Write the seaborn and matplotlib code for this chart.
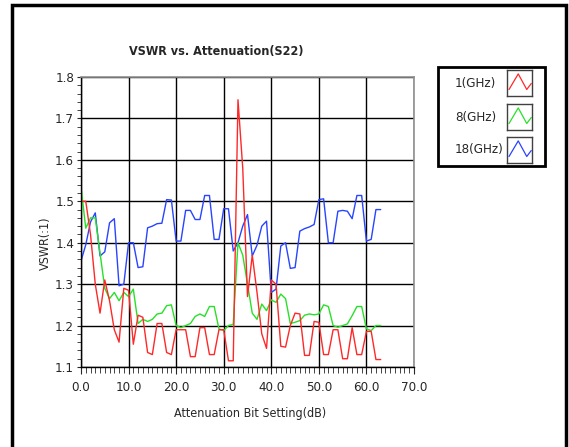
import numpy as np
import matplotlib
matplotlib.use("Agg")
import matplotlib.pyplot as plt
from matplotlib.patches import Rectangle
from matplotlib.ticker import MultipleLocator, FormatStrFormatter
import pandas as pd
import seaborn as sns

# ---- data
att_db = list(range(64))
vswr_1ghz = [1.50, 1.50, 1.42, 1.30, 1.23, 1.31, 1.26, 1.19, 1.16, 1.29,
             1.285, 1.155, 1.225, 1.22, 1.135, 1.13, 1.205, 1.205, 1.135, 1.13,
             1.19, 1.19, 1.19, 1.125, 1.125, 1.195, 1.195, 1.13, 1.13, 1.19,
             1.19, 1.115, 1.115, 1.745, 1.58, 1.27, 1.37, 1.28, 1.18, 1.145,
             1.31, 1.30, 1.15, 1.148, 1.20, 1.23, 1.228, 1.128, 1.128, 1.21,
             1.208, 1.13, 1.13, 1.19, 1.19, 1.12, 1.12, 1.195, 1.13, 1.13,
             1.186, 1.186, 1.118, 1.118]
vswr_8ghz = [1.535, 1.435, 1.46, 1.46, 1.375, 1.29, 1.265, 1.28, 1.26, 1.28,
             1.27, 1.288, 1.205, 1.215, 1.21, 1.215, 1.228, 1.23, 1.248, 1.25,
             1.20, 1.195, 1.20, 1.205, 1.222, 1.228, 1.222, 1.246, 1.246, 1.192,
             1.188, 1.20, 1.203, 1.40, 1.37, 1.30, 1.23, 1.215, 1.252, 1.236,
             1.262, 1.256, 1.276, 1.265, 1.205, 1.208, 1.212, 1.225, 1.228, 1.226,
             1.228, 1.25, 1.246, 1.20, 1.196, 1.20, 1.204, 1.224, 1.246, 1.246,
             1.192, 1.188, 1.20, 1.20]
vswr_18ghz = [1.356, 1.395, 1.45, 1.472, 1.368, 1.378, 1.448, 1.458, 1.296, 1.30,
              1.40, 1.40, 1.34, 1.342, 1.436, 1.44, 1.446, 1.447, 1.504, 1.503,
              1.404, 1.404, 1.478, 1.478, 1.456, 1.456, 1.514, 1.514, 1.408, 1.408,
              1.482, 1.482, 1.38, 1.40, 1.44, 1.468, 1.368, 1.394, 1.44, 1.452,
              1.28, 1.288, 1.392, 1.40, 1.338, 1.34, 1.428, 1.434, 1.438, 1.444,
              1.504, 1.506, 1.40, 1.40, 1.476, 1.478, 1.476, 1.458, 1.514, 1.514,
              1.404, 1.408, 1.48, 1.48]
series_names = ["1(GHz)", "8(GHz)", "18(GHz)"]
series_colors = ["#ff2828", "#28e028", "#2844ff"]

df = pd.DataFrame({
    "att": att_db * 3,
    "vswr": vswr_1ghz + vswr_8ghz + vswr_18ghz,
    "freq": [series_names[0]] * 64 + [series_names[1]] * 64 + [series_names[2]] * 64,
})

sns.set_style("white")
# narrow text like the instrument screenshot
plt.rcParams["font.family"] = ["DejaVu Sans"]
plt.rcParams["font.stretch"] = "condensed"

fig = plt.figure(figsize=(5.69, 4.47), dpi=100)
ax = fig.add_axes([81 / 569, 1 - 367 / 447, 333 / 569, 290 / 447])

# draw 18 GHz first so red ends up on top
for name, col in zip(series_names[::-1], series_colors[::-1]):
    sns.lineplot(data=df[df.freq == name], x="att", y="vswr", color=col,
                 linewidth=1.0, ax=ax, legend=False)

ax.set_xlim(0, 70)
ax.set_ylim(1.1, 1.8)
ax.xaxis.set_major_locator(MultipleLocator(10))
ax.xaxis.set_minor_locator(MultipleLocator(1))
ax.yaxis.set_major_locator(MultipleLocator(0.1))
ax.yaxis.set_minor_locator(MultipleLocator(0.02))
ax.xaxis.set_major_formatter(FormatStrFormatter("%.1f"))
ax.yaxis.set_major_formatter(FormatStrFormatter("%.1f"))
ax.grid(True, which="major", color="black", linewidth=1.0)
ax.set_axisbelow(True)
ax.tick_params(axis="x", which="major", direction="out", length=5, width=0.8,
               labelsize=9.5, pad=5, bottom=True)
ax.tick_params(axis="x", which="minor", direction="out", length=4, width=0.6, bottom=True)
ax.tick_params(axis="y", which="major", direction="out", length=3, width=0.8,
               labelsize=9.5, pad=2, left=True)
ax.tick_params(axis="y", which="minor", direction="out", length=3, width=0.6, left=True)
for s in ["left", "bottom"]:
    ax.spines[s].set_color("black")
    ax.spines[s].set_linewidth(1.0)
for s in ["top", "right"]:
    ax.spines[s].set_color("#909090")
    ax.spines[s].set_linewidth(1.2)
ax.set_xlabel("")
ax.set_ylabel("")

fig.text(216 / 569, 1 - 51 / 447, "VSWR vs. Attenuation(S22)", ha="center", va="center",
         fontsize=9, fontweight="bold")
fig.text(250 / 569, 1 - 414 / 447, "Attenuation Bit Setting(dB)", ha="center", va="center",
         fontsize=9)
fig.text(45 / 569, 1 - 243 / 447, "VSWR(:1)", ha="center", va="center", rotation=90,
         fontsize=9)

# legend box, drawn by hand like the original instrument panel
leg_left, leg_top, leg_right, leg_bottom = 438, 67, 545, 166
fig.patches.append(Rectangle((leg_left / 569, 1 - leg_bottom / 447),
                             (leg_right - leg_left) / 569, (leg_bottom - leg_top) / 447,
                             transform=fig.transFigure, fill=False, edgecolor="black",
                             linewidth=2.0))
glyph_x = [0.08, 0.45, 0.79, 0.97]
glyph_y = [0.25, 0.85, 0.25, 0.48]
row_centers = [83, 117, 150]
for name, col, yc in zip(series_names, series_colors, row_centers):
    fig.text(455 / 569, 1 - yc / 447, name, ha="left", va="center", fontsize=9.5)
    sw = fig.add_axes([507 / 569, 1 - (yc + 13) / 447, 25 / 569, 26 / 447])
    sw.plot(glyph_x, glyph_y, color=col, linewidth=0.9)
    sw.set_xlim(0, 1)
    sw.set_ylim(0, 1)
    sw.set_xticks([])
    sw.set_yticks([])
    for s in sw.spines.values():
        s.set_color("#404040")
        s.set_linewidth(1.0)

# outer frame around the whole panel
fig.patches.append(Rectangle((12 / 569, -0.05), 554 / 569, 1.05 - 5 / 447,
                             transform=fig.transFigure, fill=False, edgecolor="black",
                             linewidth=2.5))

fig.savefig("out.png", dpi=100)
